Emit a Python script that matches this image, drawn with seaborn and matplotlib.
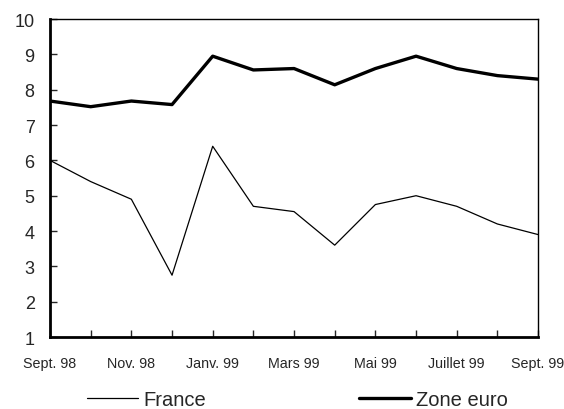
import numpy as np
import pandas as pd
import matplotlib
matplotlib.use("Agg")
import matplotlib.pyplot as plt
import seaborn as sns

months = ['Sept. 98', 'Oct. 98', 'Nov. 98', 'Déc. 98', 'Janv. 99', 'Févr. 99', 'Mars 99',
          'Avr. 99', 'Mai 99', 'Juin 99', 'Juillet 99', 'Août 99', 'Sept. 99']
france = [6.0, 5.4, 4.9, 2.75, 6.4, 4.7, 4.55, 3.6, 4.75, 5.0, 4.7, 4.2, 3.9]
zone_euro = [7.68, 7.52, 7.68, 7.58, 8.95, 8.56, 8.6, 8.14, 8.6, 8.95, 8.6, 8.4, 8.3]

sns.set_style("white")
plt.rcParams['font.family'] = ['Liberation Sans', 'DejaVu Sans']

df = pd.DataFrame({'pos': np.arange(len(months)), 'France': france, 'Zone euro': zone_euro})

fig = plt.figure(figsize=(5.64, 4.10), dpi=100)
ax = fig.add_axes([0.0887, 0.1756, 0.954 - 0.0887, 0.951 - 0.1756])

sns.lineplot(data=df, x='pos', y='France', color='black', linewidth=0.9, ax=ax, label='France')
sns.lineplot(data=df, x='pos', y='Zone euro', color='black', linewidth=2.4, ax=ax, label='Zone euro')

ax.set_xlim(0, len(months) - 1)
ax.set_ylim(1, 10)
ax.set_yticks(range(1, 11))
ax.set_xticks(np.arange(len(months)))
ax.set_xticklabels([m if i % 2 == 0 else '' for i, m in enumerate(months)], fontsize=10.3)
ax.tick_params(axis='y', labelsize=13, direction='in', length=5, width=1, left=True, pad=11)
ax.tick_params(axis='x', direction='in', length=5, width=1, bottom=True, pad=14)
ax.set_xlabel('')
ax.set_ylabel('')

for side in ['left', 'bottom']:
    ax.spines[side].set_linewidth(2)
for side in ['top', 'right']:
    ax.spines[side].set_linewidth(1)
for s in ax.spines.values():
    s.set_color('black')

handles, labels = ax.get_legend_handles_labels()
ax.get_legend().remove()
fig.legend(handles, labels, loc='center', bbox_to_anchor=(0.527, 0.022), ncol=2,
           frameon=False, fontsize=14.5, columnspacing=7.6, handlelength=2.55,
           handletextpad=0.25, borderpad=0.2)

fig.savefig('out.png', dpi=100)
